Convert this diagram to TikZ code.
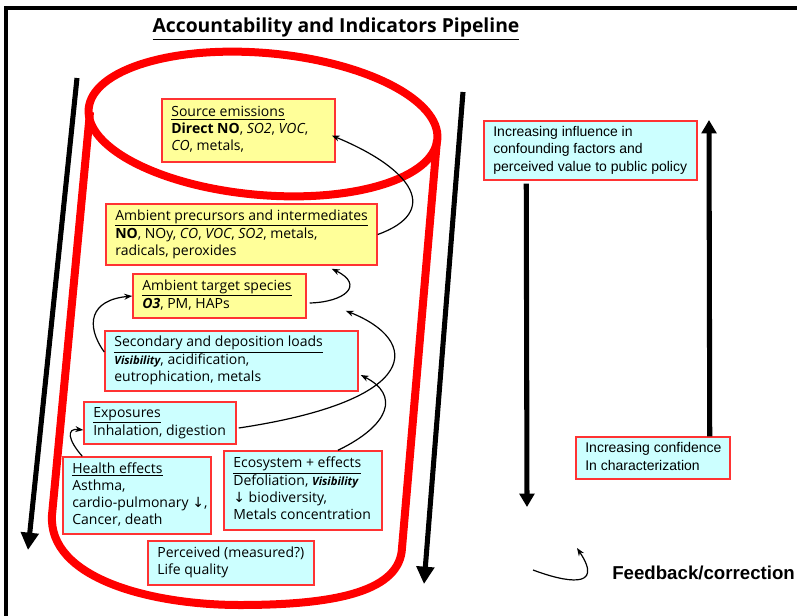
\documentclass[tikz,border=0pt]{standalone}
\usepackage{fontspec}
\setmainfont{Open Sans}
\newfontfamily\arialf{Liberation Sans}
\newfontfamily\symf{DejaVu Sans}
\usetikzlibrary{arrows.meta,calc}
\definecolor{boxyellow}{HTML}{FFFF99}
\definecolor{boxcyan}{HTML}{CCFFFF}
\definecolor{boxred}{HTML}{FF3333}
\definecolor{pipered}{HTML}{FF0000}
\newcommand\bxt[2]{\makebox[#1][l]{\begin{tabular}{@{}l@{}}#2\end{tabular}}}
\newcommand\vis{{\fontsize{8.5}{10}\selectfont\bfseries\itshape Visibility}}
\newcommand\darr{{\symf ↓}}
\begin{document}
\begin{tikzpicture}[x=0.75pt,y=-0.75pt,
  box/.style={draw=boxred, line width=1.1pt, inner xsep=7pt, inner ysep=0pt,
    font=\fontsize{10.5}{12.75}\selectfont},
  ybox/.style={box, fill=boxyellow},
  cbox/.style={box, fill=boxcyan},
  abox/.style={cbox, font=\arialf\fontsize{10.5}{13}\selectfont},
  conn/.style={-{Stealth[length=6pt,width=4.5pt]}, line width=0.9pt},
  bigarrow/.style={line width=3.8pt, -{Triangle[length=13pt,width=13pt]}},
  sidearrow/.style={line width=3.8pt, -{Triangle[length=10pt,width=11pt]}},
  pipe/.style={draw=pipered, line width=6pt, line join=round}]
\useasboundingbox (0,0) rectangle (797,615);
\clip (0,0) rectangle (797,615);
\draw[line width=2.5pt] (6,8) rectangle (830,650);

\node[font=\bfseries\fontsize{14.5}{16}\selectfont] (title) at (336,29) {\underline{Accountability and Indicators Pipeline}};

% pipe
\draw[pipe, rotate around={-5:(263,124)}] (263,124) ellipse [x radius=175, y radius=71];
\draw[pipe] (90,112) -- (52,515) .. controls (48,578) and (150,605) .. (240,605)
  .. controls (340,605) and (400,590) .. (402,548) -- (437,140);

% big arrows
\coordinate (la1) at (77,78);
\coordinate (la2) at (28,550);
\draw[bigarrow] (la1) -- (la2);
\coordinate (ma1) at (463,92);
\coordinate (ma2) at (424,584);
\draw[bigarrow] (ma1) -- (ma2);

% boxes
\node[ybox, minimum width=129.75pt, minimum height=47.25pt] (src) at (248.5,130.5)
 {\bxt{115.75pt}{\underline{Source emissions}\\ \textbf{Direct NO}, \textit{SO2}, \textit{VOC},\\ \textit{CO}, metals,}};
\node[ybox, minimum width=203.25pt, minimum height=45.75pt] (prec) at (241.5,234.5)
 {\bxt{189.25pt}{\underline{Ambient precursors and intermediates}\\ \textbf{NO}, NOy, \textit{CO}, \textit{VOC}, \textit{SO2}, metals,\\ radicals, peroxides}};
\node[ybox, minimum width=129.75pt, minimum height=33pt] (tgt) at (219.5,296)
 {\bxt{115.75pt}{\underline{Ambient target species}\\ \textbf{\textit{O3}}, PM, HAPs}};
\node[cbox, minimum width=189.75pt, minimum height=45pt] (sec) at (231.5,361)
 {\bxt{175.75pt}{\underline{Secondary and deposition loads}\\ \vis, acidification,\\ eutrophication, metals}};
\node[cbox, minimum width=114pt, minimum height=31.5pt] (exp) at (160,423)
 {\bxt{100pt}{\underline{Exposures}\\ Inhalation, digestion}};
\node[cbox, minimum width=111pt, minimum height=57.75pt] (hlth) at (137,495.5)
 {\bxt{97pt}{\underline{Health effects}\\ Asthma,\\ cardio-pulmonary \darr,\\ Cancer, death}};
\node[cbox, minimum width=118.5pt, minimum height=59.25pt] (eco) at (303,490.5)
 {\bxt{104.5pt}{\underline{Ecosystem + effects}\\ Defoliation, \vis\\ \darr{} biodiversity,\\ Metals concentration}};
\node[cbox, minimum width=124.5pt, minimum height=33pt] (perc) at (231,563)
 {\bxt{110.5pt}{Perceived (measured?)\\ Life quality}};

\node[abox, minimum width=159.75pt, minimum height=44.25pt] (infl) at (590.5,150.5)
 {\bxt{145.75pt}{Increasing influence in\\ confounding factors and\\ perceived value to public policy}};
\node[abox, minimum width=115.5pt, minimum height=31.5pt] (conf) at (653,458)
 {\bxt{101.5pt}{Increasing confidence\\ In characterization}};

% side arrows
\coordinate (dn2) at (527,507);
\draw[sidearrow] ($(infl.south west)+(43,3)$) -- (dn2);
\coordinate (up2) at (709,120);
\draw[sidearrow] ($(conf.north east)+(-21,0)$) -- (up2);

% connectors
\draw[conn] (prec.east) .. controls (440,212) and (415,170) .. ($(src.east)+(-4,5)$);
\draw[conn] ($(tgt.east)+(3,7)$) .. controls (345,302) and (365,285) .. ($(prec.south east)+(-46,3)$);
\draw[conn] ($(sec.west)+(0,-9)$) .. controls (85,325) and (90,300) .. (tgt.west);
\draw[conn] ($(exp.east)+(2,5)$) .. controls (425,400) and (420,340) .. ($(tgt.south east)+(39,-8)$);
\draw[conn] ($(eco.north)+(35,0)$) .. controls (390,425) and (400,395) .. ($(sec.east)+(2,14)$);
\draw[conn] ($(hlth.north west)+(20,0)$) .. controls (68,440) and (66,428) .. ($(exp.west)+(0,7)$);

% legend
\coordinate (fb1) at (533,570);
\coordinate (fb2) at (577,548);
\draw[conn] (fb1) .. controls (565,582) and (605,590) .. (fb2);
\node[anchor=west, inner sep=0pt, font=\arialf\bfseries\fontsize{14}{16}\selectfont] (fbt) at (612,573) {Feedback/correction};
\end{tikzpicture}
\end{document}
